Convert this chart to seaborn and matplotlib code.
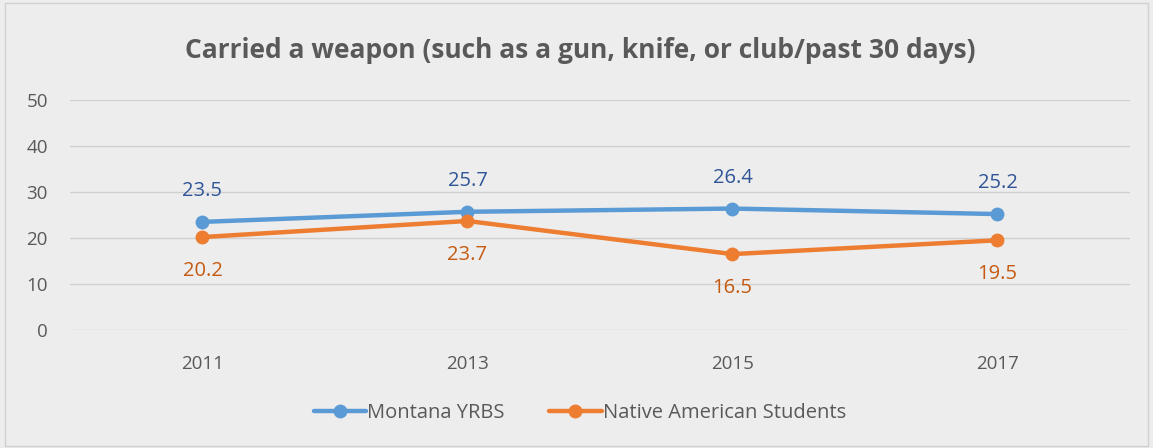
import matplotlib.pyplot as plt
from matplotlib.patches import Rectangle
import seaborn as sns
import pandas as pd

years = ["2011", "2013", "2015", "2017"]
montana = [23.5, 25.7, 26.4, 25.2]
native = [20.2, 23.7, 16.5, 19.5]
series_names = ["Montana YRBS", "Native American Students"]

line_colors = ["#5B9BD5", "#ED7D31"]
label_colors = ["#2F5597", "#C55A11"]
bg = "#EDEDED"
text_gray = "#595959"


def plot_weapon_chart():
    sns.set_theme(style="white")
    plt.rcParams["font.family"] = ["Open Sans", "DejaVu Sans"]

    df = pd.DataFrame({
        "year": years * 2,
        "value": montana + native,
        "series": [series_names[0]] * 4 + [series_names[1]] * 4,
    })

    fig = plt.figure(figsize=(11.53, 4.48), dpi=100, facecolor=bg)
    ax = fig.add_axes([0.0607, 0.2634, 0.9193, 0.5134])
    ax.set_facecolor(bg)

    sns.lineplot(
        data=df, x="year", y="value", hue="series",
        palette=line_colors, linewidth=3.2, marker="o",
        markersize=10, markeredgewidth=0, ax=ax, sort=False,
    )

    ax.set_ylim(0, 50)
    ax.set_xlim(-0.5, 3.5)
    ax.set_yticks(range(0, 51, 10))
    ax.yaxis.grid(True, color="#D0D0D0", linewidth=1)
    ax.set_axisbelow(True)
    for s in ax.spines.values():
        s.set_visible(False)
    ax.tick_params(axis="both", colors=text_gray, labelsize=13.5, length=0)
    ax.tick_params(axis="y", pad=16)
    ax.tick_params(axis="x", pad=18)
    ax.set_xlabel("")
    ax.set_ylabel("")

    for i, v in enumerate(montana):
        ax.annotate(f"{v}", (i, v), xytext=(0, 15), textcoords="offset points",
                    ha="center", va="bottom", color=label_colors[0], fontsize=14.5)
    for i, v in enumerate(native):
        ax.annotate(f"{v}", (i, v), xytext=(0, -17), textcoords="offset points",
                    ha="center", va="top", color=label_colors[1], fontsize=14.5)

    fig.text(0.503, 0.888, "Carried a weapon (such as a gun, knife, or club/past 30 days)",
             ha="center", va="center", fontsize=19, fontweight="bold", color=text_gray)

    leg = ax.legend(
        loc="center", bbox_to_anchor=(0.503, 0.078), bbox_transform=fig.transFigure,
        ncol=2, frameon=False, fontsize=14.5, handlelength=2.6, handletextpad=0.05,
        columnspacing=2.2,
    )
    for t in leg.get_texts():
        t.set_color(text_gray)

    fig.patches.append(Rectangle((0.004, 0.004), 0.992, 0.99, transform=fig.transFigure,
                                 fill=False, edgecolor="#D0D0D0", linewidth=1))

    fig.savefig("out.png", dpi=100, facecolor=bg)
    plt.close(fig)


if __name__ == "__main__":
    plot_weapon_chart()
